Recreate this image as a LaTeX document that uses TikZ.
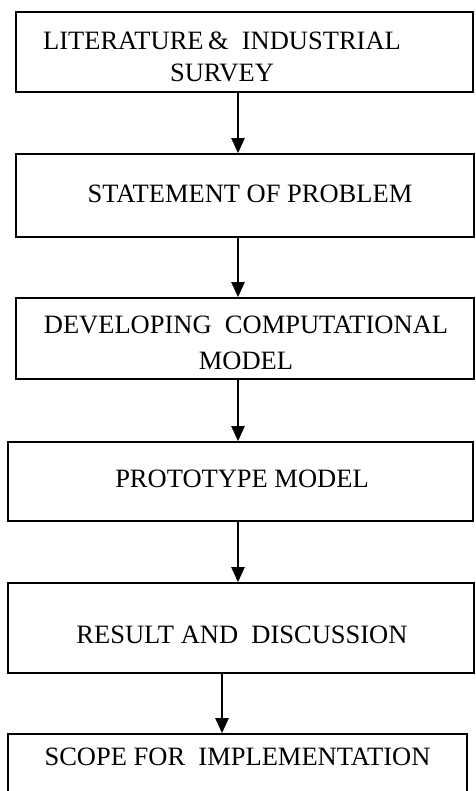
\documentclass[tikz,border=0pt]{standalone}
\usepackage{fontspec}
\setmainfont{Liberation Serif}
\usetikzlibrary{arrows.meta}
\tikzset{
  stepbox/.style={draw,line width=1.6pt,inner sep=0pt},
  steptext/.style={inner sep=0pt,align=center,font=\fontsize{26.5}{32}\selectfont},
  flow/.style={line width=2.2pt,-{Triangle[width=13pt,length=15pt]}}
}
\begin{document}
\begin{tikzpicture}[x=1pt,y=-1pt]
\clip (0,0) rectangle (475,791);
\fill[white] (0,0) rectangle (475,791);
% boxes
\node[stepbox,minimum width=457pt,minimum height=80pt] (lit) at (244.5,52) {};
\node[stepbox,minimum width=458pt,minimum height=83pt] (stmt) at (245,195.5) {};
\node[stepbox,minimum width=458pt,minimum height=81pt] (comp) at (245,338.5) {};
\node[stepbox,minimum width=465pt,minimum height=79pt] (proto) at (240.5,481.5) {};
\node[stepbox,minimum width=466pt,minimum height=90pt] (res) at (241,628) {};
\node[stepbox,minimum width=459pt,minimum height=76pt] (scope) at (237.5,772) {};
% texts
\node[steptext] (lit-t) at (222,56.5) {LITERATURE\,\&\ \ INDUSTRIAL\\SURVEY};
\node[steptext,anchor=base] (stmt-t) at (250,203) {STATEMENT OF PROBLEM};
\node[steptext] (comp-t) at (246,342.5) {DEVELOPING\ \ COMPUTATIONAL\\[4pt]MODEL};
\node[steptext,anchor=base] (proto-t) at (242,487) {PROTOTYPE MODEL};
\node[steptext,anchor=base] (res-t) at (242,643) {RESULT AND\ \ DISCUSSION};
\node[steptext,anchor=base] (scope-t) at (237.5,765) {SCOPE FOR\ \ IMPLEMENTATION};
% arrows
\coordinate (axis) at (238,0);
\coordinate (axisb) at (222,0);
\draw[flow] (lit.south -| axis) -- (stmt.north -| axis);
\draw[flow] (stmt.south -| axis) -- (comp.north -| axis);
\draw[flow] (comp.south -| axis) -- (proto.north -| axis);
\draw[flow] (proto.south -| axis) -- (res.north -| axis);
\draw[flow] (res.south -| axisb) -- (scope.north -| axisb);
\end{tikzpicture}
\end{document}
